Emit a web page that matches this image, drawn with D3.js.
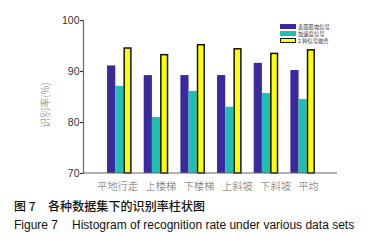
<!DOCTYPE html>
<html><head><meta charset="utf-8">
<script src="https://cdn.jsdelivr.net/npm/d3@7"></script>
<style>body{margin:0;background:#fff}svg{display:block}</style>
</head><body>
<svg id="c" width="374" height="241"></svg>
<script>
const categories = ["平地行走","上楼梯","下楼梯","上斜坡","下斜坡","平均"];
const seriesNames = ["表面肌电信号","加速度信号","2 种信号融合"];
const emg = [91.1, 89.2, 89.2, 89.2, 91.6, 90.2];
const acc = [87.1, 81.0, 86.1, 83.0, 85.7, 84.5];
const fused = [94.65, 93.35, 95.3, 94.5, 93.6, 94.3];
const yTicks = [70, 80, 90, 100];

const colors = ["#3a2a9e", "#1fbfb1", "#ffff00"];
const svg = d3.select("#c");
const y = d3.scaleLinear().domain([70,100]).range([173,20]);
const x = d3.scaleBand().domain(categories).range([101, 321]).paddingInner(0.33).paddingOuter(0.165);
const xs = d3.scaleBand().domain([0,1,2]).range([0, x.bandwidth()]);

const series = [emg, acc, fused];
series.forEach((vals, si) => {
  svg.append("g").selectAll("rect").data(vals).join("rect")
    .attr("x", (d,i) => x(categories[i]) + xs(si) + (si===2?0.75:0))
    .attr("width", xs.bandwidth() - (si===2?1.5:0))
    .attr("y", d => y(d) + (si===2?0.75:0))
    .attr("height", d => y(70) - y(d) - (si===2?0.75:0))
    .attr("fill", colors[si])
    .attr("stroke", si===2 ? "#111" : "none")
    .attr("stroke-width", si===2 ? 1.5 : 0);
});

// axes
const yAxis = svg.append("g").attr("transform","translate(83,0)")
  .call(d3.axisLeft(y).tickValues(yTicks).tickSize(3).tickPadding(0.5).tickFormat(d3.format("d")));
yAxis.select(".domain").attr("stroke","#666").attr("stroke-width",1.2);
yAxis.selectAll(".tick line").attr("stroke","#333").attr("stroke-width",1.2);
yAxis.selectAll("text").attr("font-family","Liberation Sans, Arial, sans-serif").attr("font-size",10.5).attr("fill","#333");

svg.append("line").attr("x1",83).attr("x2",337).attr("y1",y(70)).attr("y2",y(70))
  .attr("stroke","#666").attr("stroke-width",1.2);

// category labels laid out as a flowing line of text
const fs = 10.3, gap = 7.3;
let cx = 97;
const labelX = categories.map(c => { const p = cx; cx += c.length*fs + gap; return p; });
svg.append("g").selectAll("text").data(categories).join("text")
  .attr("x", (d,i) => labelX[i])
  .attr("y", 190)
  .attr("font-family","Noto Sans CJK SC, sans-serif")
  .attr("font-weight",300)
  .attr("font-size",fs).attr("fill","#666")
  .text(d => d);

svg.append("text").attr("transform","translate(49,105) rotate(-90)")
  .attr("text-anchor","middle").attr("font-family","Noto Sans CJK SC, sans-serif")
  .attr("font-weight",300)
  .attr("font-size",10).attr("fill","#777").text("识别率(%)");

// legend
const lg = svg.append("g").attr("transform","translate(280,24)");
seriesNames.forEach((n,i) => {
  lg.append("rect").attr("x", i===2?0.5:0).attr("y", i*7 + (i===2?0.5:0))
    .attr("width", i===2?15:16).attr("height", i===2?4:5)
    .attr("fill", colors[i]).attr("stroke", i===2?"#111":"none").attr("stroke-width", i===2?1:0);
  lg.append("text").attr("x",18).attr("y", i*7+4.8).attr("font-family","Noto Sans CJK SC, sans-serif")
    .attr("font-size",5.3).attr("fill","#333").text(n);
});

svg.append("text").attr("x",14).attr("y",211).attr("font-family","Noto Sans CJK SC, sans-serif")
  .attr("font-size",12).attr("font-weight",500).attr("fill","#111").text("图 7");
svg.append("text").attr("x",48).attr("y",211).attr("font-family","Noto Sans CJK SC, sans-serif")
  .attr("font-size",12).attr("font-weight",500).attr("fill","#111")
  .attr("textLength",157).attr("lengthAdjust","spacing").text("各种数据集下的识别率柱状图");
svg.append("text").attr("x",14).attr("y",228.5).attr("font-family","Liberation Sans, Arial, sans-serif")
  .attr("font-size",12).attr("fill","#111").text("Figure 7");
svg.append("text").attr("x",72).attr("y",228.5).attr("font-family","Liberation Sans, Arial, sans-serif")
  .attr("font-size",12).attr("fill","#111").text("Histogram of recognition rate under various data sets");
</script>
</body></html>
